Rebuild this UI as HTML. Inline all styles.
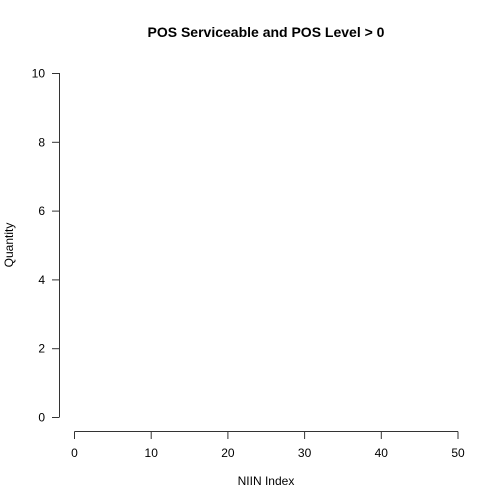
<!DOCTYPE html>
<html><head><meta charset="utf-8"><style>
html,body{margin:0;padding:0;background:#fff;}
svg{display:block;font-family:"Liberation Sans",Arial,sans-serif;}
</style></head><body>
<svg id="chart" width="504" height="504" viewBox="0 0 504 504">
<rect width="504" height="504" fill="#fff"/>
<text x="266" y="37" text-anchor="middle" font-size="14" font-weight="bold">POS Serviceable and POS Level &gt; 0</text>
<text x="266" y="485" text-anchor="middle" font-size="12">NIIN Index</text>
<text transform="translate(13,245) rotate(-90)" text-anchor="middle" font-size="12">Quantity</text>
<g id="yaxis"></g>
<g id="xaxis"></g>
</svg>
<script>
const yTicks = [0, 2, 4, 6, 8, 10];
const xTicks = [0, 10, 20, 30, 40, 50];
const NS = "http://www.w3.org/2000/svg";
function yS(v){ return 417 - (v - 0) / 10 * 344; }
function xS(v){ return 74.5 + (v - 0) / 50 * 383.5; }
function mk(tag, attrs, parent){
  const e = document.createElementNS(NS, tag);
  for (const k in attrs) e.setAttribute(k, attrs[k]);
  parent.appendChild(e); return e;
}
const ya = document.getElementById('yaxis');
const yl = mk('line', {x1:59.5, x2:59.5, y1:yS(yTicks[0]), y2:yS(yTicks[yTicks.length-1]), stroke:'#333', 'stroke-width':1}, ya);


yTicks.forEach(v => {
  const t = mk('line', {x1:52, x2:59.5, y1:yS(v)+0.5, y2:yS(v)+0.5, stroke:'#333', 'stroke-width':1}, ya);
  
  
  const l = mk('text', {x:45, y:yS(v)+4.5, 'text-anchor':'end', 'font-size':12}, ya);
  l.textContent = v;
  
  
});
const xa = document.getElementById('xaxis');
const xl = mk('line', {x1:xS(xTicks[0]), x2:xS(xTicks[xTicks.length-1]), y1:431.5, y2:431.5, stroke:'#333', 'stroke-width':1}, xa);


xTicks.forEach(v => {
  const t = mk('line', {x1:xS(v), x2:xS(v), y1:431.5, y2:439, stroke:'#333', 'stroke-width':1}, xa);
  
  
  const l = mk('text', {x:xS(v), y:457, 'text-anchor':'middle', 'font-size':12}, xa);
  l.textContent = v;
  
  
});
</script>
</body></html>
